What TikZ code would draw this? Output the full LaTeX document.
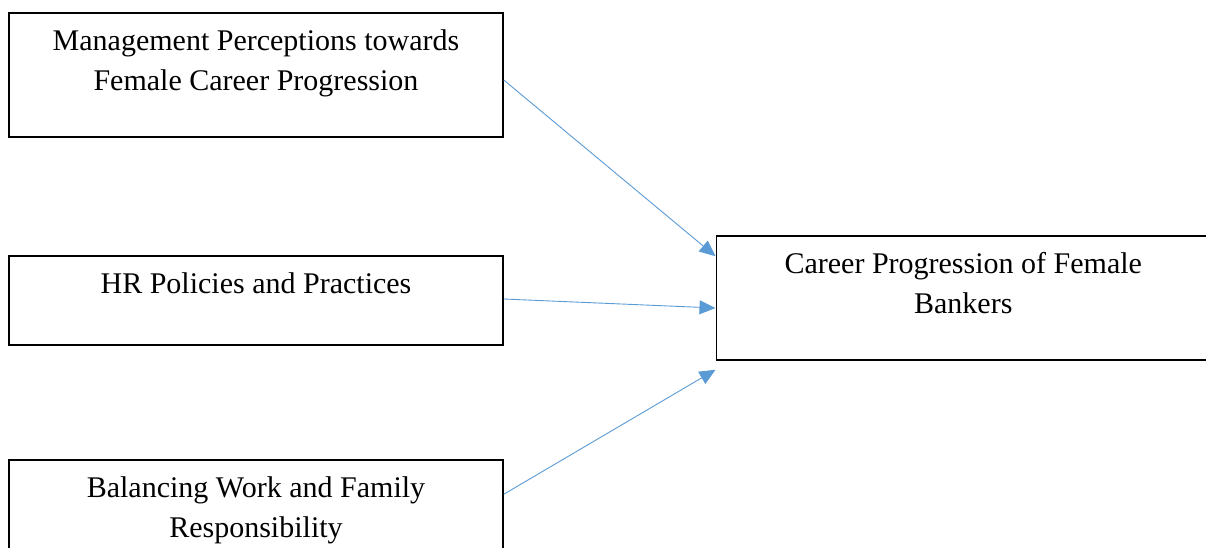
\documentclass[tikz,border=0pt]{standalone}
\usepackage{fontspec}
\setmainfont{Liberation Serif}
\usetikzlibrary{arrows.meta}
\definecolor{arrowblue}{HTML}{5B9BD5}
\tikzset{
  box/.style={draw=black, line width=1.5pt, inner sep=0pt, minimum width=494pt},
  txt/.style={inner sep=0pt, anchor=north, align=center, font=\fontsize{30}{40}\selectfont},
  link/.style={draw=arrowblue, line width=0.9pt, -{Triangle[length=16pt,width=14pt]}}
}
\begin{document}
\begin{tikzpicture}[x=1pt,y=-1pt]
\useasboundingbox (0,0) rectangle (1206,548);
\clip (0,0) rectangle (1206,548);
\fill[white] (0,0) rectangle (1206,548);
% boxes
\node[box, minimum height=124pt] (b1) at (256,75) {};
\node[box, minimum height=89pt] (b2) at (256,300.5) {};
\node[box, minimum height=124pt] (b3) at (256,522) {};
\node[box, minimum height=124pt] (b4) at (963.25,298) {};
% texts
\node[txt] (t1) at ([yshift=-10.5pt]b1.north) {\strut Management Perceptions towards\\Female Career Progression};
\node[txt] (t2) at ([yshift=-10.5pt]b2.north) {\strut HR Policies and Practices};
\node[txt] (t3) at ([yshift=-10.5pt]b3.north) {\strut Balancing Work and Family\\Responsibility};
\node[txt] (t4) at ([yshift=-10.5pt]b4.north) {\strut Career Progression of Female\\Bankers};
% connectors
\draw[link] ([yshift=-5pt]b1.east) -- ([yshift=-21pt]b4.north west);
\draw[link] ([yshift=1.5pt]b2.east) -- ([yshift=-10pt]b4.west);
\draw[link] ([yshift=-35pt]b3.north east) -- ([yshift=-9pt]b4.south west);
\end{tikzpicture}
\end{document}
